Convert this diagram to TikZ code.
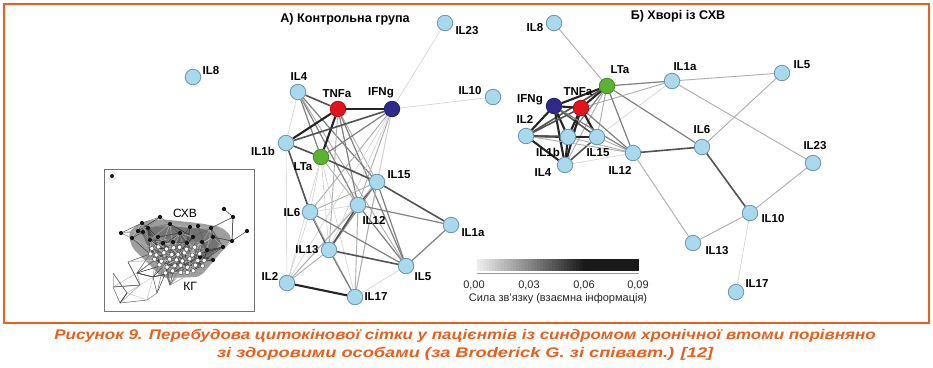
\documentclass[tikz,border=0pt]{standalone}
\usepackage{fontspec}
\setmainfont{Liberation Sans}
\usetikzlibrary{backgrounds}
\pgfdeclarelayer{paper}
\pgfsetlayers{paper,background,main}
\definecolor{frameor}{HTML}{E8601C}
\definecolor{nblue}{HTML}{A9D9EE}
\definecolor{nbord}{HTML}{6A94AA}
\definecolor{nred}{HTML}{E3141B}
\definecolor{nnavy}{HTML}{2E2A8A}
\definecolor{ngreen}{HTML}{5BB431}
\begin{document}
\begin{tikzpicture}[x=1pt,y=-1pt,
 cyt/.style={circle, minimum size=15.5pt, inner sep=0pt, fill=nblue, draw=nbord, line width=0.8pt},
 tnf/.style={cyt, fill=nred, draw=nred!75!black},
 ifn/.style={cyt, fill=nnavy, draw=nnavy!75!black},
 lta/.style={cyt, fill=ngreen, draw=ngreen!75!black},
 lab/.style={font=\bfseries\fontsize{11.5}{12}\selectfont, inner sep=0pt},
 ttl/.style={font=\bfseries\fontsize{12.6}{13}\selectfont, inner sep=0pt},
 cbt/.style={font=\fontsize{11}{12}\selectfont, inner sep=0pt, text=black!85},
 e0/.style={draw=black!18, line width=0.6pt},
 e1/.style={draw=black!32, line width=0.9pt},
 e2/.style={draw=black!50, line width=1.2pt},
 e3/.style={draw=black!68, line width=1.6pt},
 e4/.style={draw=black!86, line width=2.1pt},
]
\useasboundingbox (0,0) rectangle (933,367);
\begin{pgfonlayer}{paper}
\fill[white] (0,0) rectangle (933,367);
\end{pgfonlayer}
\draw[frameor, line width=2pt] (4,4) rectangle (929,323);

% ---------- titles
\node[ttl] (tA) at (345,19) {А) Контрольна група};
\node[ttl] (tB) at (678,16) {Б) Хворі із СХВ};

% ---------- panel A nodes
\node[cyt] (aIL23) at (445,23) {};
\node[cyt] (aIL8) at (193,77) {};
\node[cyt] (aIL4) at (298,92) {};
\node[tnf] (aTNFa) at (338,109) {};
\node[ifn] (aIFNg) at (392,109) {};
\node[cyt] (aIL10) at (493,97) {};
\node[cyt] (aIL1b) at (286,143) {};
\node[lta] (aLTa) at (321,157) {};
\node[cyt] (aIL15) at (377,182) {};
\node[cyt] (aIL12) at (358,205) {};
\node[cyt] (aIL6) at (310,212) {};
\node[cyt] (aIL1a) at (451,225) {};
\node[cyt] (aIL13) at (329,250) {};
\node[cyt] (aIL5) at (406,266) {};
\node[cyt] (aIL2) at (287,283) {};
\node[cyt] (aIL17) at (355,297) {};

\node[lab] (laIL23) at (467,31) {IL23};
\node[lab] (laIL8) at (211,71) {IL8};
\node[lab] (laIL4) at (299,77) {IL4};
\node[lab] (laTNFa) at (337,94) {TNFa};
\node[lab] (laIFNg) at (381,93) {IFNg};
\node[lab] (laIL10) at (470,91) {IL10};
\node[lab] (laIL1b) at (263,151) {IL1b};
\node[lab] (laLTa) at (303,167) {LTa};
\node[lab] (laIL15) at (399,175) {IL15};
\node[lab] (laIL12) at (374,220) {IL12};
\node[lab] (laIL6) at (292,213) {IL6};
\node[lab] (laIL1a) at (473,233) {IL1a};
\node[lab] (laIL13) at (307,250) {IL13};
\node[lab] (laIL5) at (423,277) {IL5};
\node[lab] (laIL2) at (270,276) {IL2};
\node[lab] (laIL17) at (376,297) {IL17};

% ---------- panel B nodes
\node[cyt] (bIL8) at (554,23) {};
\node[lta] (bLTa) at (607,86) {};
\node[cyt] (bIL1a) at (672,81) {};
\node[cyt] (bIL5) at (782,73) {};
\node[ifn] (bIFNg) at (554,106) {};
\node[tnf] (bTNFa) at (581,108) {};
\node[cyt] (bIL2) at (526,136) {};
\node[cyt] (bIL1b) at (568,137) {};
\node[cyt] (bIL15) at (597,137) {};
\node[cyt] (bIL12) at (633,153) {};
\node[cyt] (bIL6) at (702,147) {};
\node[cyt] (bIL23) at (813,163) {};
\node[cyt] (bIL4) at (565,165) {};
\node[cyt] (bIL10) at (750,213) {};
\node[cyt] (bIL13) at (693,243) {};
\node[cyt] (bIL17) at (736,292) {};

\node[lab] (lbIL8) at (535,28) {IL8};
\node[lab] (lbLTa) at (620,70) {LTa};
\node[lab] (lbIL1a) at (685,67) {IL1a};
\node[lab] (lbIL5) at (802,65) {IL5};
\node[lab] (lbIFNg) at (530,100) {IFNg};
\node[lab] (lbTNFa) at (578,92) {TNFa};
\node[lab] (lbIL2) at (525,119) {IL2};
\node[lab] (lbIL1b) at (548,152) {IL1b};
\node[lab] (lbIL15) at (598,153) {IL15};
\node[lab] (lbIL12) at (620,170) {IL12};
\node[lab] (lbIL4) at (543,173) {IL4};
\node[lab] (lbIL6) at (702,130) {IL6};
\node[lab] (lbIL23) at (815,146) {IL23};
\node[lab] (lbIL10) at (773,219) {IL10};
\node[lab] (lbIL13) at (717,251) {IL13};
\node[lab] (lbIL17) at (757,284) {IL17};

\begin{pgfonlayer}{background}
% ---------- panel A edges
\foreach \s/\a/\b in {
 e0/IL4/IL1b, e3/IL4/TNFa, e2/IL4/LTa, e2/IL4/IL15, e2/IL4/IL12, e1/IL4/IL5,
 e4/TNFa/IFNg, e4/TNFa/IL1b, e4/TNFa/LTa, e1/TNFa/IL15, e2/TNFa/IL12, e2/TNFa/IL5, e1/TNFa/IL13,
 e0/IFNg/IL10, e0/IFNg/IL23, e3/IFNg/IL1b, e2/IFNg/LTa, e1/IFNg/IL6, e1/IFNg/IL12, e0/IFNg/IL13,
 e0/IFNg/IL15, e0/IFNg/IL17, e0/IFNg/IL2,
 e3/IL1b/LTa, e3/IL1b/IL6, e0/IL1b/IL2,
 e3/LTa/IL15, e0/LTa/IL6, e0/LTa/IL13, e0/LTa/IL2, e0/LTa/IL17, e1/LTa/IL12,
 e3/IL15/IL1a, e3/IL15/IL12, e2/IL15/IL13, e2/IL15/IL5, e1/IL15/IL6, e1/IL15/IL17, e0/IL15/IL2,
 e2/IL12/IL1a, e3/IL12/IL13, e2/IL12/IL5, e0/IL12/IL6, e1/IL12/IL2, e1/IL12/IL17,
 e3/IL6/IL13, e2/IL6/IL5, e0/IL6/IL2, e1/IL6/IL17,
 e3/IL13/IL5, e2/IL13/IL17, e1/IL13/IL2,
 e2/IL5/IL1a, e0/IL5/IL17,
 e4/IL2/IL17}
 {\draw[\s] (a\a) -- (a\b);}
% ---------- panel B edges
\foreach \s/\a/\b in {
 e1/IL8/LTa, e2/LTa/IL1a, e1/IL1a/IL5, e1/IL1a/IL23, e1/IL5/IL6, e2/LTa/IL6,
 e3/IL12/IL6, e3/IL6/IL10, e1/IL23/IL10, e1/IL10/IL13, e0/IL10/IL17, e1/IL12/IL13,
 e0/IL4/IL12, e1/IL1a/TNFa, e0/IL1a/IL15,
 e2/LTa/IL12, e1/LTa/IL15, e2/LTa/IL1b, e4/LTa/TNFa, e4/LTa/IFNg, e3/LTa/IL2, e1/LTa/IL4,
 e4/IFNg/TNFa, e4/IFNg/IL2, e4/IFNg/IL1b, e3/IFNg/IL15, e4/IFNg/IL4,
 e3/TNFa/IL2, e4/TNFa/IL1b, e4/TNFa/IL15, e4/TNFa/IL4,
 e4/IL2/IL1b, e4/IL2/IL4, e3/IL2/IL15, e4/IL1b/IL4, e4/IL1b/IL15, e3/IL15/IL4,
 e2/IL12/IFNg, e2/IL12/TNFa, e1/IL12/IL1b, e1/IL12/IL15, e1/IL12/IL2}
 {\draw[\s] (b\a) -- (b\b);}
\end{pgfonlayer}

% ---------- inset
\draw[black!55, line width=1pt, fill=white] (104,169) rectangle (254,311);
\fill[black!38, rounded corners=6pt] (128,232) -- (142,222) -- (160,219) -- (198,223) -- (222,227)
 -- (233,238) -- (222,251) -- (212,263) -- (200,277) -- (162,278) -- (148,263) -- (132,248) -- cycle;
\fill[black!55, rounded corners=5pt] (140,229) -- (165,226) -- (205,229) -- (222,240) -- (210,258)
 -- (196,270) -- (165,270) -- (152,256) -- cycle;
\def\PX{{121,132,142,138,143,148,160,158,170,180,190,198,193,211,213,224,233,247,232,223,207,213,200,150,163,173,187,202,
152,159,166,173,180,187,194,150,157,164,171,178,185,192,199,155,162,169,176,183,190,197,204,160,167,174,181,188,195,202,166,173,180,187,194,
113,127,113,137,153,163,157,120,140,147,128,170}}
\def\PY{{233,238,223,231,232,228,217,237,224,233,227,226,237,228,237,209,217,231,241,247,250,260,257,240,243,242,243,242,
248,248,248,248,248,248,248,254,254,254,254,254,254,254,254,260,260,260,260,260,260,260,260,266,266,266,266,266,266,266,272,272,272,272,272,
273,293,287,273,277,267,293,303,285,300,262,285}}
\pgfmathsetseed{11}
\foreach \n in {1,...,2200}{
 \pgfmathrandominteger{\ia}{0}{74}
 \pgfmathrandominteger{\ib}{0}{74}
 \pgfmathsetmacro\xa{\PX[\ia]}
 \pgfmathsetmacro\ya{\PY[\ia]}
 \pgfmathsetmacro\xb{\PX[\ib]}
 \pgfmathsetmacro\yb{\PY[\ib]}
 \pgfmathsetmacro\dd{veclen(\xa-\xb,\ya-\yb)}
 \pgfmathsetmacro\gg{int(random(20,85))}
 \ifdim\dd pt<28pt \draw[black!\gg, line width=0.5pt] (\xa,\ya) -- (\xb,\yb);\fi
}
\foreach \i in {0,...,27}{
 \pgfmathsetmacro\xa{\PX[\i]}
 \pgfmathsetmacro\ya{\PY[\i]}
 \fill[black!92] (\xa,\ya) circle (2.1);
}
\foreach \i in {28,...,62}{
 \pgfmathsetmacro\xa{\PX[\i]+0.8*sin(97*\i)}
 \pgfmathsetmacro\ya{\PY[\i]+1.2*cos(131*\i)}
 \fill[white, draw=black!75, line width=0.35pt] (\xa,\ya) circle (2.1);
}
\fill[black!92] (112,176) circle (2);
\node[font=\fontsize{12}{13}\selectfont, inner sep=0pt] (iCXB) at (185,213) {СХВ};
\node[font=\fontsize{12}{13}\selectfont, inner sep=0pt] (iKG) at (190,286) {КГ};

% ---------- colour bar
\foreach \i in {0,...,53}{
 \pgfmathsetmacro\pp{min(90,7+125*\i/53)}
 \fill[black!\pp] (477+3*\i,259) rectangle (480.3+3*\i,271);
}
\coordinate (cbL) at (477,273.5);
\coordinate (cbR) at (639,273.5);
\draw[black!40, line width=0.5pt] (cbL) -- (cbR);
\node[cbt] (c0) at (474,285) {0,00};
\node[cbt] (c1) at (529,285) {0,03};
\node[cbt] (c2) at (584,285) {0,06};
\node[cbt] (c3) at (638,285) {0,09};
\node[cbt] (cap) at (558,299) {Сила зв'язку (взаємна інформація)};

% ---------- caption
\node[font=\bfseries\itshape\fontsize{14}{18}\selectfont, text=frameor, align=center, inner sep=0pt] (fig) at (465,345)
 {\scalebox{1.21}[1]{Рисунок 9. Перебудова цитокінової сітки у пацієнтів із синдромом хронічної втоми порівняно}\\
 \scalebox{1.3}[1]{зі здоровими особами (за Broderick G. зі співавт.) [12]}};
\end{tikzpicture}
\end{document}
